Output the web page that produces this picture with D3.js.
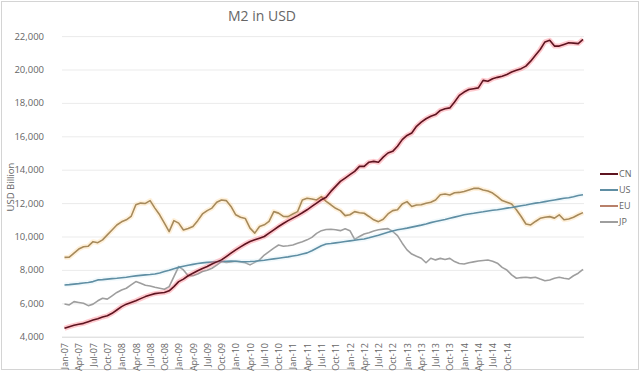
<!doctype html>
<html>
  <head>
    <meta charset="utf-8">
    <script src="https://cdn.jsdelivr.net/npm/d3@7"></script>
    <style>
      body { margin: 0; background: #fff; }
      text { font-family: "Segoe UI", "Open Sans", "Noto Sans", sans-serif; fill: #666; }
    </style>
  </head>
  <body>
    <svg id="chart" width="640" height="373"></svg>

    <script>
      // monthly M2 in USD billion, Jan-07 .. Feb-16
      var cn = [4500,4600,4680,4750,4800,4900,5000,5080,5180,5250,5400,5600,
        5800,5950,6050,6150,6280,6400,6500,6580,6620,6650,6750,7000,
        7300,7450,7650,7800,7950,8080,8200,8350,8480,8600,8800,9000,
        9200,9380,9550,9700,9800,9900,10000,10200,10400,10600,10780,10950,
        11100,11250,11420,11600,11800,12000,12200,12350,12700,13000,13300,13500,
        13700,13900,14200,14200,14450,14500,14450,14750,15000,15100,15400,15800,
        16050,16200,16600,16850,17050,17200,17300,17550,17650,17700,18050,18450,
        18650,18800,18850,18900,19350,19300,19450,19530,19600,19700,19850,19950,
        20050,20200,20500,20850,21200,21650,21750,21400,21400,21500,21600,21580,
        21550,21800];
      var us = [7100,7120,7150,7180,7220,7250,7300,7400,7420,7450,7480,7500,
        7530,7560,7600,7640,7670,7700,7720,7750,7820,7900,7980,8070,
        8150,8220,8280,8330,8380,8420,8450,8470,8490,8500,8520,8530,
        8520,8500,8490,8500,8520,8550,8580,8620,8660,8700,8740,8780,
        8830,8880,8950,9020,9150,9300,9450,9550,9580,9620,9660,9700,
        9740,9780,9820,9850,9920,10000,10080,10170,10250,10330,10400,10450,
        10500,10560,10620,10680,10750,10830,10900,10960,11020,11090,11160,11230,
        11300,11350,11390,11440,11480,11530,11570,11600,11650,11700,11740,11790,
        11840,11890,11950,12000,12040,12090,12140,12190,12240,12290,12320,12380,
        12460,12500];
      var eu = [8750,8760,9000,9250,9390,9420,9690,9630,9800,10100,10390,10690,
        10880,11000,11200,11900,12000,11980,12150,11700,11300,10800,10290,10950,
        10800,10390,10480,10600,10950,11350,11550,11700,12050,12190,12150,11800,
        11300,11150,11080,10500,10200,10600,10700,10900,11490,11400,11200,11190,
        11350,11490,12190,12290,12250,12190,12390,12100,11900,11690,11550,11250,
        11300,11490,11420,11390,11200,11000,10890,11030,11350,11550,11600,11950,
        12090,11800,11890,11900,11990,12050,12190,12500,12540,12490,12620,12640,
        12700,12790,12880,12890,12790,12720,12600,12390,12150,12050,11950,11600,
        11200,10750,10690,10900,11090,11150,11190,11100,11300,11000,11050,11150,
        11300,11430];
      var jp = [5960,5900,6100,6050,6000,5860,5950,6150,6300,6250,6450,6650,
        6800,6900,7100,7300,7200,7080,7040,6960,6900,6840,7000,7600,
        8200,8000,7650,7650,7750,7900,7980,8100,8290,8500,8450,8480,
        8520,8470,8430,8300,8450,8600,8890,9100,9300,9490,9420,9450,
        9490,9590,9690,9800,9950,10190,10350,10420,10430,10400,10350,10460,
        10350,9830,10000,10150,10230,10330,10400,10440,10470,10300,10050,9600,
        9200,8950,8820,8700,8430,8700,8600,8690,8620,8690,8500,8380,
        8350,8430,8480,8530,8560,8590,8520,8400,8150,7990,7700,7500,
        7540,7560,7520,7560,7450,7350,7400,7500,7560,7500,7450,7650,
        7800,8030];

      var seriesNames = ["CN", "US", "EU", "JP"];
      var yTicks = [4000,6000,8000,10000,12000,14000,16000,18000,20000,22000];
      var xTickLabels = ["Jan-07","Apr-07","Jul-07","Oct-07","Jan-08","Apr-08","Jul-08","Oct-08",
        "Jan-09","Apr-09","Jul-09","Oct-09","Jan-10","Apr-10","Jul-10","Oct-10",
        "Jan-11","Apr-11","Jul-11","Oct-11","Jan-12","Apr-12","Jul-12","Oct-12",
        "Jan-13","Apr-13","Jul-13","Oct-13","Jan-14","Apr-14","Jul-14","Oct-14"];

      var series = [
        { name: "CN", values: cn, color: "#5e1420", glow: "#ff5060", glowOp: 0.3 },
        { name: "US", values: us, color: "#5f8ea3", glow: "#b8e0f0", glowOp: 0.2 },
        { name: "EU", values: eu, color: "#a68a5c", glow: "#ffc870", glowOp: 0.25 },
        { name: "JP", values: jp, color: "#9e9e9e", glow: null }
      ];

      var svg = d3.select("#chart");

      svg.append("rect")
        .attr("x", 1.5).attr("y", 1.5)
        .attr("width", 637).attr("height", 368)
        .attr("fill", "#fff")
        .attr("stroke", "#d4d4d4");

      var x = d3.scaleLinear().domain([0, cn.length - 1]).range([64.5, 583]);
      var y = d3.scaleLinear().domain([4000, 22000]).range([336.7, 36.1]);

      // gridlines
      svg.append("g")
        .selectAll("line")
        .data(yTicks)
        .enter()
        .append("line")
          .attr("x1", 62).attr("x2", 584)
          .attr("y1", function(d) { return y(d) + 0.5; })
          .attr("y2", function(d) { return y(d) + 0.5; })
          .attr("stroke", function(d) { return d === 4000 ? "#d6d6d6" : "#ebebeb"; })
          .attr("stroke-width", 1);

      // y axis labels
      var yAxis = d3.axisLeft(y)
        .tickValues(yTicks)
        .tickFormat(d3.format(","))
        .tickSize(0)
        .tickPadding(0);
      var yg = svg.append("g")
        .attr("transform", "translate(44,0)")
        .call(yAxis);
      yg.select(".domain").remove();
      yg.selectAll("text")
        .attr("font-size", 9.5)
        .attr("fill", "#666");

      // x axis labels, every 3 months
      var xAxis = d3.axisBottom(x)
        .tickValues(xTickLabels.map(function(d, i) { return i * 3; }))
        .tickFormat(function(d) { return xTickLabels[d / 3]; })
        .tickSize(0)
        .tickPadding(0);
      var xg = svg.append("g")
        .attr("transform", "translate(0,343)")
        .call(xAxis);
      xg.select(".domain").remove();
      xg.selectAll("text")
        .attr("font-size", 9)
        .attr("fill", "#666")
        .attr("text-anchor", "end")
        .attr("dy", "0.35em")
        .attr("dx", 0)
        .attr("y", 0)
        .attr("transform", "rotate(-90)");

      // y axis title
      svg.append("text")
        .attr("transform", "translate(14,187) rotate(-90)")
        .attr("text-anchor", "middle")
        .attr("font-size", 9.5)
        .text("USD Billion");

      // title
      svg.append("text")
        .attr("x", 262).attr("y", 21)
        .attr("text-anchor", "middle")
        .attr("font-size", 14)
        .text("M2 in USD");

      var line = d3.line()
        .x(function(d, i) { return x(i); })
        .y(function(d) { return y(d); });

      // draw JP first so CN ends on top
      var drawOrder = [series[3], series[2], series[1], series[0]];
      drawOrder.forEach(function(s) {
        if (s.glow) {
          svg.append("path")
            .datum(s.values)
            .attr("fill", "none")
            .attr("stroke", s.glow)
            .attr("stroke-opacity", s.glowOp)
            .attr("stroke-width", 5)
            .attr("stroke-linejoin", "round")
            .attr("d", line);
        }
        svg.append("path")
          .datum(s.values)
          .attr("fill", "none")
          .attr("stroke", s.color)
          .attr("stroke-width", 1.6)
          .attr("stroke-linejoin", "round")
          .attr("d", line);
      });

      // legend
      var legendY = [174, 190, 206, 222];
      var legend = svg.append("g");
      series.forEach(function(s, i) {
        legend.append("line")
          .attr("x1", 600).attr("x2", 618)
          .attr("y1", legendY[i]).attr("y2", legendY[i])
          .attr("stroke", s.name === "EU" ? "#b8806a" : s.color)
          .attr("stroke-width", 2);
        legend.append("text")
          .attr("x", 619).attr("y", legendY[i])
          .attr("dy", "0.35em")
          .attr("font-size", 9)
          .text(seriesNames[i]);
      });
    </script>
  </body>
</html>
